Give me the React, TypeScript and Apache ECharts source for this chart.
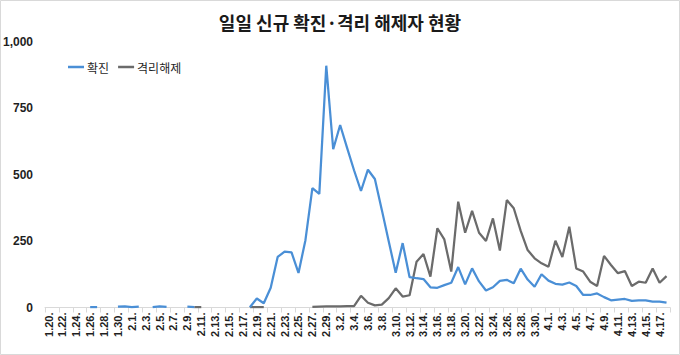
import React, { useEffect, useRef } from "react";
import * as echarts from "echarts";

const dates = [
  "1.20.", "1.21.", "1.22.", "1.23.", "1.24.", "1.25.", "1.26.", "1.27.", "1.28.", "1.29.", "1.30.", "1.31.",
  "2.1.", "2.2.", "2.3.", "2.4.", "2.5.", "2.6.", "2.7.", "2.8.", "2.9.", "2.10.", "2.11.", "2.12.", "2.13.", "2.14.",
  "2.15.", "2.16.", "2.17.", "2.18.", "2.19.", "2.20.", "2.21.", "2.22.", "2.23.", "2.24.", "2.25.", "2.26.", "2.27.",
  "2.28.", "2.29.",
  "3.1.", "3.2.", "3.3.", "3.4.", "3.5.", "3.6.", "3.7.", "3.8.", "3.9.", "3.10.", "3.11.", "3.12.", "3.13.", "3.14.",
  "3.15.", "3.16.", "3.17.", "3.18.", "3.19.", "3.20.", "3.21.", "3.22.", "3.23.", "3.24.", "3.25.", "3.26.", "3.27.",
  "3.28.", "3.29.", "3.30.", "3.31.",
  "4.1.", "4.2.", "4.3.", "4.4.", "4.5.", "4.6.", "4.7.", "4.8.", "4.9.", "4.10.", "4.11.", "4.12.", "4.13.", "4.14.",
  "4.15.", "4.16.", "4.17.", "4.18.",
];

const confirmed: (number | null)[] = [
  null, null, null, null, null, null, 1, 1, null, null, 3, 4,
  1, 3, null, 1, 4, 2, null, null, 3, 1, null, null, null, null,
  null, null, null, 1, 34, 16, 74, 190, 210, 207, 130, 253, 449,
  427, 909,
  595, 686, 600, 516, 438, 518, 483, 367, 248, 131, 242, 114, 110, 107,
  76, 74, 84, 93, 152, 87, 147, 98, 64, 76, 100, 104, 91,
  146, 105, 78, 125,
  101, 89, 86, 94, 81, 47, 47, 53, 39, 27, 30, 32, 25, 27,
  27, 22, 22, 18,
];

const released: (number | null)[] = [
  null, null, null, null, null, null, null, null, null, null, null, null,
  null, null, null, null, null, null, null, null, null, 1, 1, null, null, null,
  null, null, null, 1, 1, 1, null, null, null, null, null, null, 2,
  3, 4,
  4, 4, 5, 5, 44, 18, 8, 11, 35, 72, 41, 46, 172, 201,
  116, 298, 256, 135, 398, 281, 363, 281, 250, 335, 214, 404, 373,
  288, 216, 185, 166,
  153, 251, 190, 304, 147, 135, 97, 81, 194, 160, 129, 137, 81, 97,
  93, 147, 93, 118,
];

const yTicks = [0, 250, 500, 750, 1000];

const TITLE = "일일 신규 확진·격리 해제자 현황";
const FONT = "'Noto Sans CJK KR', 'Noto Sans', sans-serif";

export default function App() {
  const ref = useRef<HTMLDivElement>(null);
  useEffect(() => {
    if (!ref.current) return;
    const chart = echarts.init(ref.current, undefined, { renderer: "svg" });
    chart.setOption({
      animation: false,
      backgroundColor: "#ffffff",
      textStyle: { fontFamily: FONT },
      title: {
        text: TITLE,
        left: "center",
        top: 8,
        textStyle: { fontSize: 18, fontWeight: "bold", color: "#1a1a1a", fontFamily: FONT },
      },
      legend: {
        left: 63,
        top: 56,
        icon: "rect",
        itemWidth: 16,
        itemHeight: 2.5,
        itemGap: 9,
        textStyle: { fontSize: 12, color: "#1f1f1f", fontFamily: FONT, padding: [0, 0, 0, -2] },
        data: ["확진", "격리해제"],
      },
      graphic: [
        {
          type: "rect",
          shape: { x: 0.5, y: 0.5, width: 679, height: 354 },
          style: { fill: "none", stroke: "#d9d9d9", lineWidth: 1 },
          silent: true,
        },
      ],
      grid: { left: 45, right: 10, top: 41.5, bottom: 47.5, containLabel: false },
      xAxis: {
        type: "category",
        data: dates,
        boundaryGap: true,
        axisLine: { show: true, lineStyle: { color: "#d9d9d9", width: 1 } },
        axisTick: { show: true, interval: 1, length: 5, lineStyle: { color: "#d9d9d9" } },
        axisLabel: {
          interval: 1,
          rotate: 90,
          margin: 5,
          fontSize: 11,
          fontWeight: "bold",
          color: "#1f1f1f",
          fontFamily: "'Liberation Sans', Arial, sans-serif",
        },
        splitLine: { show: false },
      },
      yAxis: {
        type: "value",
        min: 0,
        max: 1000,
        interval: 250,
        axisLine: { show: false },
        axisTick: { show: false },
        splitLine: { show: false },
        axisLabel: {
          margin: 12,
          fontSize: 12,
          fontWeight: "bold",
          color: "#1f1f1f",
          fontFamily: "'Liberation Sans', Arial, sans-serif",
          formatter: (v: number) => (yTicks.includes(v) ? v.toLocaleString("en-US") : ""),
        },
      },
      series: [
        {
          name: "확진",
          type: "line",
          data: confirmed,
          showSymbol: false,
          connectNulls: false,
          color: "#4a8fd6",
          lineStyle: { width: 2.25, color: "#4a8fd6" },
          z: 3,
        },
        {
          name: "격리해제",
          type: "line",
          data: released,
          showSymbol: false,
          connectNulls: false,
          color: "#6b6b6b",
          lineStyle: { width: 2.25, color: "#6b6b6b" },
          z: 2,
        },
      ],
    });
    return () => chart.dispose();
  }, []);
  return (
    <div
      ref={ref}
      style={{ position: "absolute", left: 0, top: 0, width: 680, height: 355 }}
    />
  );
}
